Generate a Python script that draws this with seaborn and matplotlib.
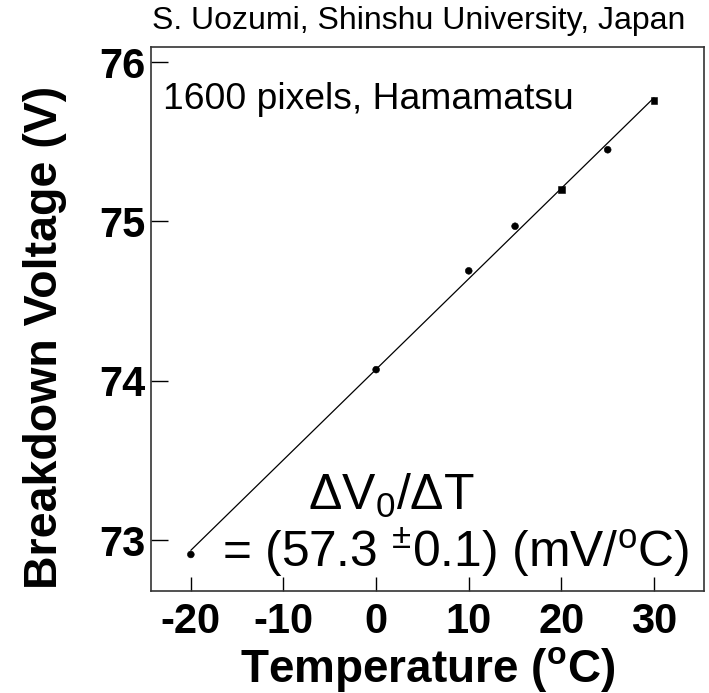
import matplotlib
matplotlib.use('Agg')
import matplotlib.pyplot as plt
import seaborn as sns
import numpy as np
import pandas as pd

# Breakdown voltage vs temperature (1600 pixel MPPC, Hamamatsu)
temperature = [-20, 0, 10, 15, 20, 25, 30]
breakdown_v = [72.91, 74.07, 74.69, 74.97, 75.20, 75.45, 75.76]
marker_kind = ['circle', 'circle', 'circle', 'circle', 'square', 'circle', 'square']

x_ticks = [-20, -10, 0, 10, 20, 30]
y_ticks = [73, 74, 75, 76]

df = pd.DataFrame({'T': temperature, 'V': breakdown_v, 'kind': marker_kind})

sns.set_style('ticks')
plt.rcParams['font.family'] = ['Liberation Sans', 'DejaVu Sans']
plt.rcParams['mathtext.fontset'] = 'custom'
plt.rcParams['mathtext.rm'] = 'Liberation Sans'
plt.rcParams['mathtext.it'] = 'Liberation Sans:italic'
plt.rcParams['mathtext.bf'] = 'Liberation Sans:bold'
for k in ['text.color', 'axes.labelcolor', 'xtick.color', 'ytick.color']:
    plt.rcParams[k] = 'black'

fig = plt.figure(figsize=(7.09, 6.93), dpi=100)
ax = fig.add_axes([0.213, 0.147, 0.780, 0.785])

# linear fit line
sns.regplot(data=df, x='T', y='V', ax=ax, ci=None, scatter=False, truncate=True,
            line_kws={'color': 'black', 'lw': 0.9})
sns.scatterplot(data=df, x='T', y='V', style='kind', ax=ax, color='black',
                markers={'circle': 'o', 'square': 's'}, s=24, edgecolor='black',
                legend=False, zorder=3)

ax.set_xlim(-24.3, 35.4)
ax.set_ylim(72.68, 76.094)
ax.set_xticks(x_ticks)
ax.set_yticks(y_ticks)
ax.set_xticklabels([str(t) for t in x_ticks], fontsize=30, fontweight='bold')
ax.set_yticklabels([str(t) for t in y_ticks], fontsize=30, fontweight='bold')
ax.tick_params(axis='x', direction='in', length=10, width=1, pad=8)
ax.tick_params(axis='y', direction='in', length=12, width=1, pad=4)
for sp in ax.spines.values():
    sp.set_linewidth(1.2)
    sp.set_color('#333333')

ax.set_xlabel(r'Temperature ($^{\mathbf{o}}$C)', fontsize=33, fontweight='bold', labelpad=2)
ax.set_ylabel('Breakdown Voltage (V)', fontsize=33.5, fontweight='bold')
ax.yaxis.set_label_coords(-0.152, 0.467)

ax.text(0.022, 0.903, '1600 pixels, Hamamatsu', transform=ax.transAxes,
        fontsize=26.8, va='center', ha='left')
ax.text(0.284, 0.149, r'$\Delta$V$_0$/$\Delta$T', transform=ax.transAxes,
        fontsize=36, va='baseline', ha='left')
ax.text(0.128, 0.044, r'= (57.3 $^{\pm}$0.1) (mV/$^{\rm o}$C)', transform=ax.transAxes,
        fontsize=35.8, va='baseline', ha='left')

fig.text(0.214, 0.969, 'S. Uozumi, Shinshu University, Japan', fontsize=23,
         va='center', ha='left')

plt.savefig('out.png', dpi=100)
